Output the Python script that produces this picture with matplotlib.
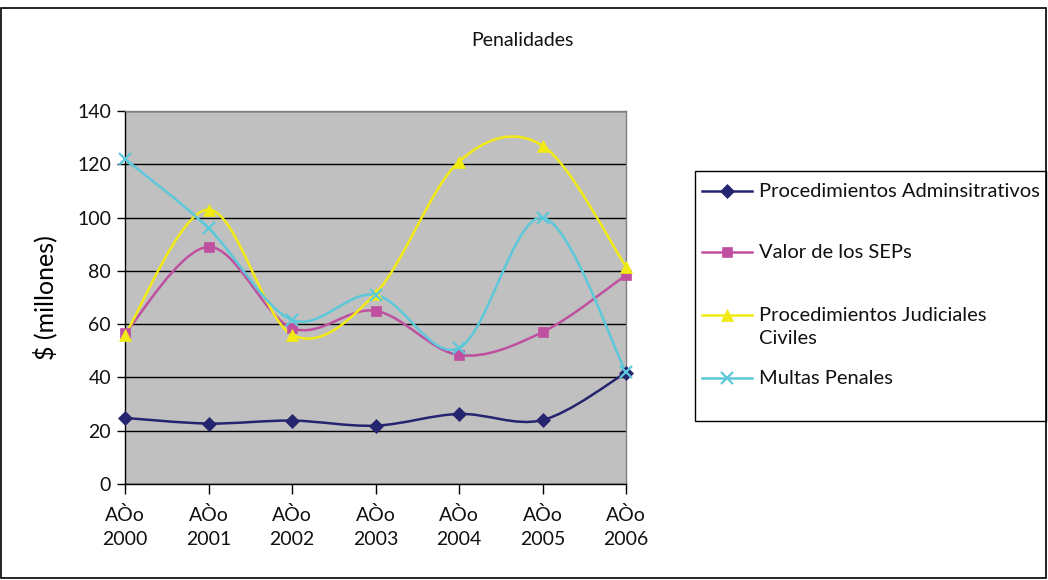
import matplotlib
matplotlib.use("Agg")
import matplotlib.pyplot as plt
from matplotlib.path import Path
from matplotlib.patches import PathPatch, Rectangle
from matplotlib.lines import Line2D
import numpy as np

plt.rcParams['font.family'] = ['Lato', 'DejaVu Sans']
plt.rcParams['font.weight'] = 'normal'
plt.rcParams['text.color'] = '#111111'

years = ["2000", "2001", "2002", "2003", "2004", "2005", "2006"]
tick_labels = ["AÒo\n" + y for y in years]
series_names = ["Procedimientos Adminsitrativos", "Valor de los SEPs",
                "Procedimientos Judiciales\nCiviles", "Multas Penales"]
admin = [24.8, 22.7, 23.8, 21.9, 26.3, 24.0, 41.8]
seps = [56.6, 89.0, 58.5, 65.0, 48.4, 57.0, 78.4]
judiciales = [56.0, 103.0, 56.0, 71.5, 121.0, 127.0, 81.6]
multas = [122.0, 96.0, 61.6, 71.0, 51.0, 100.0, 42.0]

colors = ['#24246F', '#BF50A0', '#F2EA14', '#5CC8DA']
markers = ['D', 's', '^', 'x']
msizes = [7.5, 7.5, 9, 9]

W, H = 1048, 580
fig = plt.figure(figsize=(W / 100, H / 100), dpi=100)
ax = fig.add_axes([125 / W, 1 - 484 / H, 501 / W, 373 / H])
ax.set_facecolor('#C0C0C0')

x = np.arange(len(years))


def smooth_path(xs, ys):
    pts = np.column_stack([xs, ys]).astype(float)
    n = len(pts)
    verts = [pts[0]]
    codes = [Path.MOVETO]
    for i in range(n - 1):
        p0 = pts[i - 1] if i > 0 else pts[i]
        p1 = pts[i]
        p2 = pts[i + 1]
        p3 = pts[i + 2] if i + 2 < n else pts[i + 1]
        c1 = p1 + (p2 - p0) / 6.0
        c2 = p2 - (p3 - p1) / 6.0
        verts += [c1, c2, p2]
        codes += [Path.CURVE4] * 3
    return Path(verts, codes)


data = [admin, seps, judiciales, multas]
styles = []
for vals, c, m, ms in zip(data, colors, markers, msizes):
    patch = PathPatch(smooth_path(x, vals), facecolor='none', edgecolor=c,
                      lw=1.8, transform=ax.transData, zorder=3)
    ax.add_patch(patch)
    mew = 1.6 if m == 'x' else 0.5
    ax.plot(x, vals, linestyle='none', marker=m, markersize=ms, color=c,
            markeredgecolor=c, markeredgewidth=mew, zorder=4, clip_on=False)
    styles.append(dict(color=c, marker=m, markersize=ms, markeredgecolor=c,
                       markeredgewidth=mew))

ax.set_xlim(0, len(years) - 1)
ax.set_ylim(0, 140)
ax.set_yticks(np.arange(0, 141, 20))
ax.set_xticks(x)
ax.set_xticklabels(tick_labels, fontsize=14, linespacing=1.5)
ax.tick_params(axis='y', labelsize=14, direction='out', length=6, width=1,
               colors='black', labelcolor='#111111', pad=4)
ax.tick_params(axis='x', direction='out', length=7, width=1, pad=9,
               labelcolor='#111111')
ax.yaxis.grid(True, color='black', lw=1)
ax.set_axisbelow(True)
for s in ['top', 'right']:
    ax.spines[s].set_color('#808080')
    ax.spines[s].set_linewidth(1)
for s in ['left', 'bottom']:
    ax.spines[s].set_color('black')
    ax.spines[s].set_linewidth(1)

ax.set_ylabel("$ (millones)", fontsize=18, labelpad=14)
fig.text(522 / W, 1 - 40 / H, "Penalidades", ha='center', va='center', fontsize=14)

# legend (manual layout, mimicking the spreadsheet legend box)
fig.patches.append(Rectangle((695 / W, 1 - 421 / H), 351 / W, 250 / H,
                             transform=fig.transFigure, fill=False,
                             edgecolor='black', lw=1))
leg_y = [191, 252, 315, 378]
for name, st, yy in zip(series_names, styles, leg_y):
    yf = 1 - yy / H
    fig.add_artist(Line2D([702 / W, 752 / W], [yf, yf], lw=1.8,
                          transform=fig.transFigure, color=st['color']))
    fig.add_artist(Line2D([727 / W], [yf], linestyle='none',
                          transform=fig.transFigure, **st))
    fig.text(759 / W, 1 - (yy - 8) / H, name, ha='left', va='top',
             fontsize=14.5, linespacing=1.45)

fig.patches.append(Rectangle((1 / W, 2 / H), 1045 / W, 570 / H,
                             transform=fig.transFigure, fill=False,
                             edgecolor='black', lw=1.2))

fig.savefig("out.png", dpi=100)
